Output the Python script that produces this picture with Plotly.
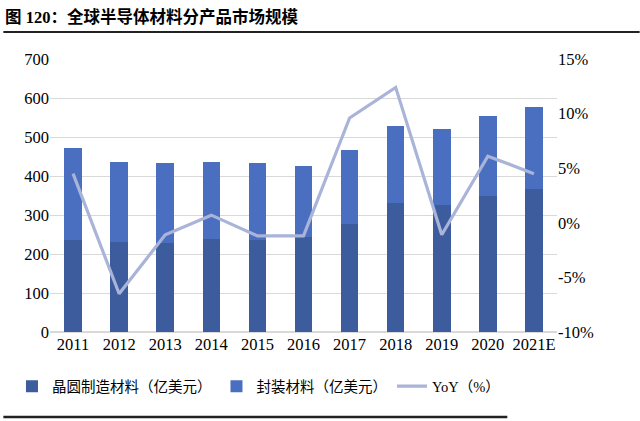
import plotly.graph_objects as go

# datos
anios = ['2011', '2012', '2013', '2014', '2015', '2016', '2017', '2018', '2019', '2020', '2021E']
total = [472, 437, 433, 437, 433, 426, 467, 527, 520, 553, 578]
oblea = [236, 230, 227, 238, 236, 243, 277, 330, 326, 349, 367]
encapsulado = [t - o for t, o in zip(total, oblea)]
yoy = [4.5, -6.5, -1.1, 0.7, -1.2, -1.2, 9.6, 12.4, -1.1, 6.1, 4.5]
yoy_ticks = [-10, -5, 0, 5, 10, 15]
yoy_labels = ['-10%', '-5%', '0%', '5%', '10%', '15%']

FUENTE = '"Liberation Serif", "Times New Roman", "Noto Sans CJK SC", serif'

fig = go.Figure()

fig.add_trace(go.Bar(
    x=anios, y=oblea, name='晶圆制造材料（亿美元）',
    marker_color='#3D5C9E', marker_line_width=0,
))
fig.add_trace(go.Bar(
    x=anios, y=encapsulado, name='封装材料（亿美元）',
    marker_color='#4A6FC0', marker_line_width=0,
))
fig.add_trace(go.Scatter(
    x=anios, y=yoy, name='YoY（%）', yaxis='y2',
    mode='lines', line=dict(color='#A9B4D8', width=3.2),
))

fig.update_layout(
    width=640, height=421,
    barmode='stack', bargap=0.62,
    plot_bgcolor='white', paper_bgcolor='white',
    margin=dict(l=47, r=83, t=59, b=89),
    font=dict(family=FUENTE, size=16, color='#000000'),
    xaxis=dict(
        showgrid=False, showline=False, ticks='',
        tickfont=dict(size=16.5), range=[-0.5, 10.5],
    ),
    yaxis=dict(
        range=[0, 700], dtick=100, showgrid=True, gridcolor='#D9D9D9',
        gridwidth=1, zeroline=True, zerolinecolor='#D9D9D9', ticks='',
        tickfont=dict(size=16.5),
    ),
    yaxis2=dict(
        range=[-10, 15], overlaying='y', side='right',
        tickvals=yoy_ticks, ticktext=yoy_labels,
        showgrid=False, zeroline=False, ticks='',
        tickfont=dict(size=16.5),
    ),
    legend=dict(
        orientation='h', x=-0.075, y=-0.14, xanchor='left', yanchor='top',
        font=dict(size=14.5), traceorder='normal', itemwidth=30,
    ),
    showlegend=True,
)

# titulo y lineas de separacion
fig.add_annotation(
    text='<b>图 120：全球半导体材料分产品市场规模</b>',
    xref='paper', yref='paper', x=-0.092, y=1.0, yshift=42,
    xanchor='left', yanchor='middle', showarrow=False,
    font=dict(size=16.5, family=FUENTE),
)
fig.add_shape(type='line', xref='paper', yref='paper',
              x0=-0.092, x1=1.163, y0=1.099, y1=1.099,
              line=dict(color='#222222', width=2))
fig.add_shape(type='line', xref='paper', yref='paper',
              x0=-0.092, x1=0.902, y0=-0.311, y1=-0.311,
              line=dict(color='#222222', width=2.5))

fig.write_html('out.html', config={'displayModeBar': False},
               post_script="document.body.style.margin='0';")
